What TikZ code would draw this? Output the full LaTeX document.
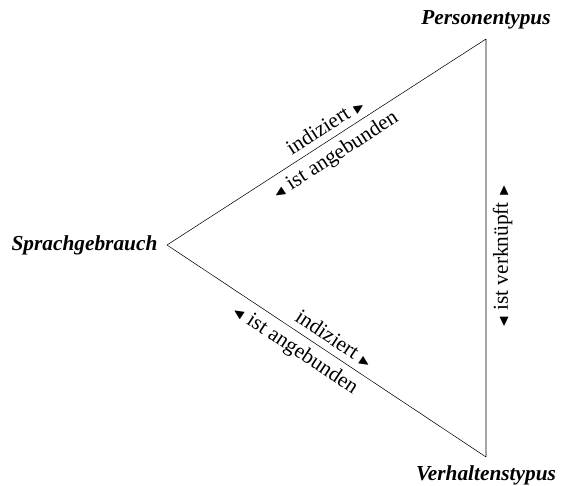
\documentclass[tikz,border=0pt]{standalone}
\usepackage{amssymb}
\usepackage{fontspec}
\setmainfont{Liberation Serif}
\usetikzlibrary{positioning}
\tikzset{
every node/.style={font=\fontsize{16}{19}\selectfont},
corner/.style={font=\fontsize{16}{19}\selectfont\bfseries\itshape, inner sep=1pt},
rel/.style={sloped, inner sep=5pt},
}
\newcommand{\fwd}{$\scriptstyle\blacktriangleright$}
\newcommand{\bwd}{$\scriptstyle\blacktriangleleft$}

\begin{document}
\begin{tikzpicture}[x=0.75pt, y=-0.75pt]
    \useasboundingbox (0,0) rectangle (573,485);
    \coordinate (spr) at (167,245);
    \coordinate (per) at (486,39);
    \coordinate (ver) at (486,457);

    \node[corner, left=6pt of spr] (sprlabel) {Sprachgebrauch};
    \node[corner, above=6pt of per] (perlabel) {Personentypus};
    \node[corner, below=5pt of ver] (verlabel) {Verhaltenstypus};

    \draw
    (spr) -- (per)
        node[rel, pos=0.52, above] (ind1) {indiziert \fwd}
        node[rel, midway, below] (ang1) {\bwd\ ist angebunden}
    (spr) -- (ver)
        node[rel, midway, above] (ind2) {indiziert \fwd}
        node[rel, pos=0.43, below] (ang2) {\bwd\ ist angebunden}
    (ver) -- (per)
        node[rel, pos=0.48, below] (verk) {\bwd\ ist verknüpft \fwd}
    ;
\end{tikzpicture}
\end{document}
